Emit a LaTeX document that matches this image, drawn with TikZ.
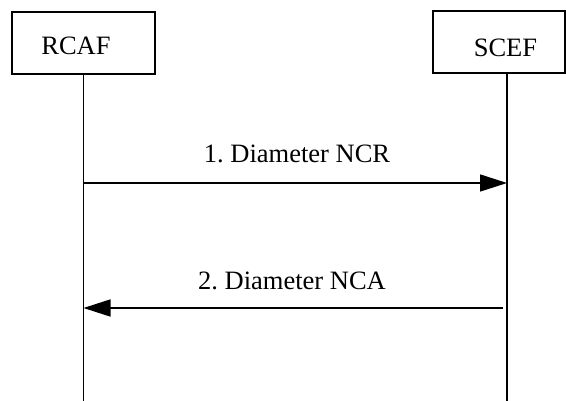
\documentclass[tikz,border=0pt]{standalone}
\usepackage{fontspec}
\setmainfont{Liberation Serif}
\usetikzlibrary{arrows.meta}
\frenchspacing
\begin{document}
\begin{tikzpicture}[x=1pt,y=-1pt,
  font=\fontsize{26.5}{30}\selectfont,
  entity/.style={draw, line width=1.8pt, rectangle, inner sep=0pt, minimum height=62pt},
  lifeline/.style={line width=1.3pt},
  msg/.style={line width=1.6pt, -{Triangle[length=27pt,width=17pt]}},
  msglabel/.style={anchor=base, inner sep=0pt}]
\useasboundingbox (0,0) rectangle (566,401);
\node[entity, minimum width=143pt, text height=24pt, text depth=0pt] (rcaf) at (83.5,43) {RCAF\kern15pt};
\node[entity, minimum width=132pt, text height=30pt, text depth=0pt] (scef) at (499,42) {\kern13pt SCEF};
\coordinate (rbot) at (83.5,401);
\coordinate (stop) at (507,72);
\coordinate (sbot) at (507,401);
\draw[lifeline] (rcaf.south) -- (rbot);
\draw[lifeline] (stop) -- (sbot);
\coordinate (m1a) at (83.5,183);
\coordinate (m1b) at (507,183);
\coordinate (m2a) at (503,308);
\coordinate (m2b) at (83.5,308);
\draw[msg] (m1a) -- (m1b);
\draw[msg] (m2a) -- (m2b);
\node[msglabel] (l1) at (297,163) {1. Diameter NCR};
\node[msglabel] (l2) at (292,290) {2. Diameter NCA};
\end{tikzpicture}
\end{document}
